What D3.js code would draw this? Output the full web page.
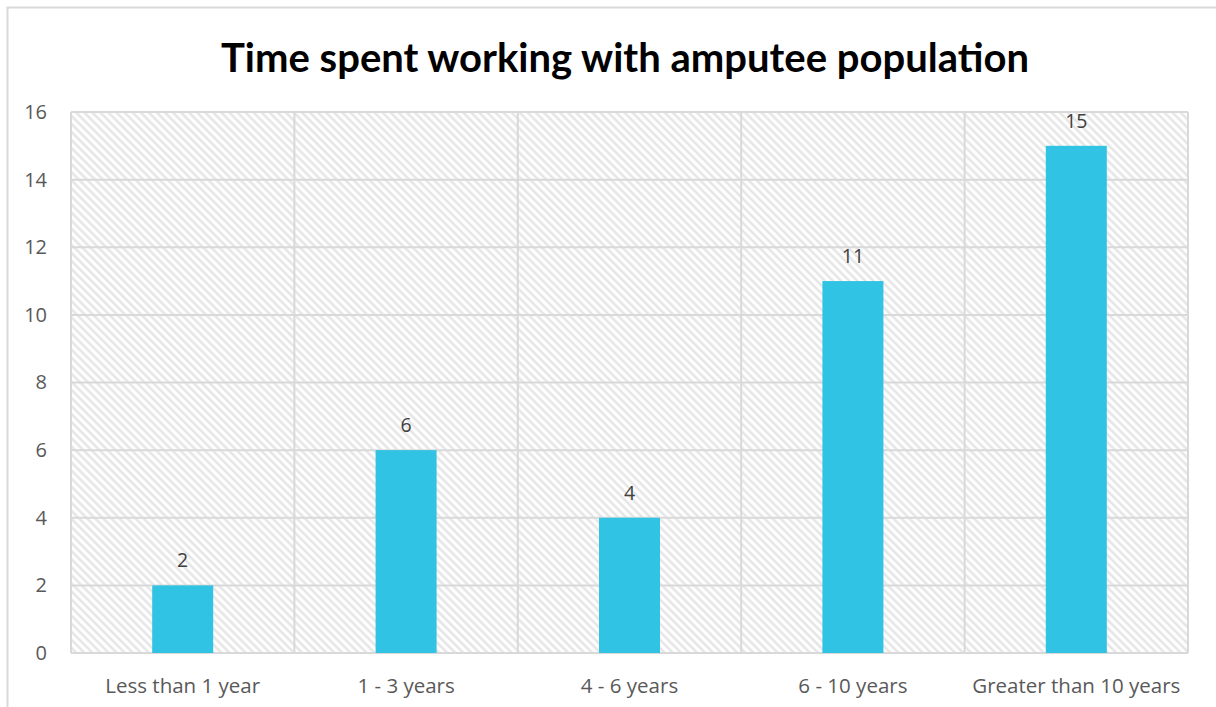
<!DOCTYPE html>
<html><head><meta charset="utf-8">
<script src="https://cdn.jsdelivr.net/npm/d3@7"></script>
<style>body{margin:0;background:#fff;} svg{display:block;}</style>
</head><body>
<svg id="chart" width="1216" height="707"></svg>
<script>
const categories = ["Less than 1 year", "1 - 3 years", "4 - 6 years", "6 - 10 years", "Greater than 10 years"];
const values = [2, 6, 4, 11, 15];
const yTicks = [0, 2, 4, 6, 8, 10, 12, 14, 16];
const title = "Time spent working with amputee population";

const svg = d3.select("#chart");
const font = "'Open Sans', Lato, sans-serif";
const titleFont = "Lato, 'Open Sans', sans-serif";
const m = {left: 71, right: 1188, top: 112, bottom: 653};

// outer frame
svg.append("rect").attr("x", 7.5).attr("y", 7.5).attr("width", 1300).attr("height", 800)
  .attr("fill", "#fff").attr("stroke", "#d9d9d9").attr("stroke-width", 2);

const defs = svg.append("defs");
const P = 5.7;
const pat = defs.append("pattern").attr("id", "hatch").attr("patternUnits", "userSpaceOnUse")
  .attr("width", P).attr("height", P).attr("patternTransform", "rotate(45)");
pat.append("rect").attr("width", P).attr("height", P).attr("fill", "#fff");
pat.append("line").attr("x1", 0).attr("y1", P / 2).attr("x2", P).attr("y2", P / 2)
  .attr("stroke", "#e5e5e5").attr("stroke-width", 2.5);

const x = d3.scaleBand().domain(categories).range([m.left, m.right]).paddingInner(0).paddingOuter(0);
const y = d3.scaleLinear().domain([0, 16]).range([m.bottom, m.top]);

svg.append("rect").attr("x", m.left).attr("y", m.top).attr("width", m.right - m.left)
  .attr("height", m.bottom - m.top).attr("fill", "url(#hatch)");

// horizontal gridlines
svg.append("g").selectAll("line").data(yTicks).join("line")
  .attr("x1", m.left).attr("x2", m.right)
  .attr("y1", d => y(d)).attr("y2", d => y(d))
  .attr("stroke", "#d9d9d9").attr("stroke-width", 2);
// vertical gridlines at category boundaries
const bounds = categories.map(c => x(c)).concat([m.right]);
svg.append("g").selectAll("line").data(bounds).join("line")
  .attr("x1", d => d).attr("x2", d => d)
  .attr("y1", m.top).attr("y2", m.bottom)
  .attr("stroke", "#d9d9d9").attr("stroke-width", 2);

// bars
const bw = 61;
svg.append("g").selectAll("rect").data(values).join("rect")
  .attr("x", (d, i) => x(categories[i]) + x.bandwidth() / 2 - bw / 2)
  .attr("width", bw)
  .attr("y", d => y(d))
  .attr("height", d => y(0) - y(d))
  .attr("fill", "#31c3e3");

// data labels
svg.append("g").selectAll("text").data(values).join("text")
  .attr("x", (d, i) => x(categories[i]) + x.bandwidth() / 2)
  .attr("y", d => y(d) - 18)
  .attr("text-anchor", "middle")
  .attr("font-family", font).attr("font-size", 19.5).attr("fill", "#404040")
  .text(d => d);

// y axis labels
const yAxis = d3.axisLeft(y).tickValues(yTicks).tickSize(0).tickPadding(24);
const gy = svg.append("g").attr("transform", `translate(${m.left},0)`).call(yAxis);
gy.select(".domain").remove();
gy.selectAll("text").attr("font-family", font).attr("font-size", 20).attr("fill", "#595959");

// x axis labels
const xAxis = d3.axisBottom(x).tickSize(0).tickPadding(25);
const gx = svg.append("g").attr("transform", `translate(0,${m.bottom})`).call(xAxis);
gx.select(".domain").remove();
gx.selectAll("text").attr("font-family", font).attr("font-size", 20.5).attr("fill", "#595959");

// title
svg.append("text").attr("x", 625).attr("y", 72).attr("text-anchor", "middle")
  .attr("font-family", titleFont).attr("font-weight", "bold").attr("font-size", 40)
  .attr("fill", "#000").text(title);
</script>
</body></html>
